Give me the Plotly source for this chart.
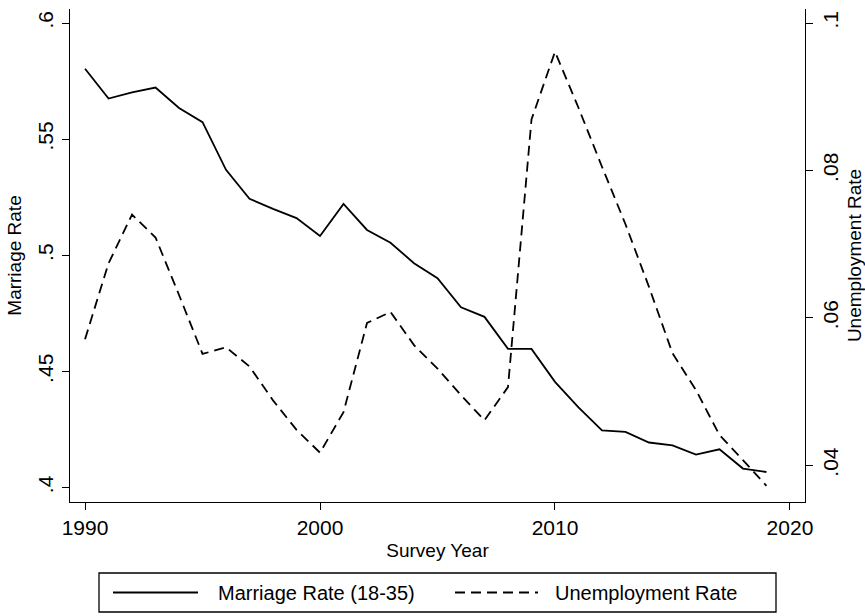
import plotly.graph_objects as go

# Survey years and the two series
years = list(range(1990, 2020))
marriage_rate = [
    0.5803, 0.5675, 0.5701, 0.5722, 0.5634, 0.5573, 0.5368, 0.5243, 0.5200, 0.5160,
    0.5083, 0.5221, 0.5109, 0.5054, 0.4966, 0.4901, 0.4776, 0.4735, 0.4597, 0.4597,
    0.4455, 0.4345, 0.4246, 0.4240, 0.4194, 0.4182, 0.4142, 0.4165, 0.4082, 0.4067,
]
unemployment_rate = [
    0.0571, 0.0674, 0.0740, 0.0709, 0.0631, 0.0551, 0.0560, 0.0534, 0.0488, 0.0448,
    0.0417, 0.0472, 0.0593, 0.0608, 0.0563, 0.0531, 0.0495, 0.0461, 0.0506, 0.0869,
    0.0961, 0.0885, 0.0805, 0.0727, 0.0642, 0.0552, 0.0502, 0.0441, 0.0407, 0.0372,
]

# Axis ticks and labels
x_ticks = [1990, 2000, 2010, 2020]
left_ticks = [0.4, 0.45, 0.5, 0.55, 0.6]
left_labels = [".4", ".45", ".5", ".55", ".6"]
right_ticks = [0.04, 0.06, 0.08, 0.1]
right_labels = [".04", ".06", ".08", ".1"]

series_names = ["Marriage Rate (18-35)", "Unemployment Rate"]

W, H = 865, 616
M_L, M_R, M_T, M_B = 70, 60, 9, 114
PLOT_W = W - M_L - M_R
PLOT_H = H - M_T - M_B

FONT = "Liberation Sans, Arial, sans-serif"
DASH = "10px,6px"
LINE_W = 1.8
TITLE_SIZE = 19
LEGEND_SIZE = 20


def paper_x(px):
    return (px - M_L) / PLOT_W


def paper_y(py):
    return (H - M_B - py) / PLOT_H


fig = go.Figure()
fig.add_trace(go.Scatter(
    x=years, y=marriage_rate, name=series_names[0], mode="lines",
    line=dict(color="black", width=LINE_W), yaxis="y",
))
fig.add_trace(go.Scatter(
    x=years, y=unemployment_rate, name=series_names[1], mode="lines",
    line=dict(color="black", width=LINE_W, dash=DASH), yaxis="y2",
))

axis_common = dict(
    showgrid=False, zeroline=False, showline=True, linecolor="black", linewidth=1.3,
    ticks="outside", ticklen=7, tickwidth=1.3, tickcolor="black",
    tickfont=dict(family=FONT, size=21, color="black"),
)

fig.update_layout(
    width=W, height=H,
    margin=dict(l=M_L, r=M_R, t=M_T, b=M_B, autoexpand=False),
    paper_bgcolor="white", plot_bgcolor="white",
    showlegend=False,
    font=dict(family=FONT, color="black"),
    xaxis=dict(
        range=[1989.36, 2020.64], tickmode="array", tickvals=x_ticks,
        title=dict(text="Survey Year", font=dict(family=FONT, size=TITLE_SIZE), standoff=5),
        **axis_common,
    ),
    yaxis=dict(
        range=[0.39379, 0.60603], tickmode="array", tickvals=left_ticks,
        ticktext=left_labels, tickangle=-90,
        title=dict(text="Marriage Rate", font=dict(family=FONT, size=TITLE_SIZE), standoff=7),
        **axis_common,
    ),
    yaxis2=dict(
        range=[0.03501, 0.1019], tickmode="array", tickvals=right_ticks,
        ticktext=right_labels, tickangle=-90, overlaying="y", side="right",
        title=dict(text="Unemployment Rate", font=dict(family=FONT, size=TITLE_SIZE), standoff=7),
        **axis_common,
    ),
)

# Legend box drawn below the plot with long line samples
box_l, box_r, box_t, box_b = 99, 776, 573, 612
row_y = (box_t + box_b) / 2
fig.add_shape(type="rect", xref="paper", yref="paper",
              x0=paper_x(box_l), x1=paper_x(box_r), y0=paper_y(box_b), y1=paper_y(box_t),
              line=dict(color="black", width=1.3), fillcolor="white")
fig.add_shape(type="line", xref="paper", yref="paper",
              x0=paper_x(113), x1=paper_x(198), y0=paper_y(row_y), y1=paper_y(row_y),
              line=dict(color="black", width=LINE_W))
fig.add_shape(type="line", xref="paper", yref="paper",
              x0=paper_x(455), x1=paper_x(538), y0=paper_y(row_y), y1=paper_y(row_y),
              line=dict(color="black", width=LINE_W, dash=DASH))
for text, left in [(series_names[0], 216), (series_names[1], 553)]:
    fig.add_annotation(text=text, xref="paper", yref="paper",
                       x=paper_x(left), y=paper_y(row_y), xanchor="left", yanchor="middle",
                       showarrow=False, font=dict(family=FONT, size=LEGEND_SIZE, color="black"))

fig.write_html("out.html")
